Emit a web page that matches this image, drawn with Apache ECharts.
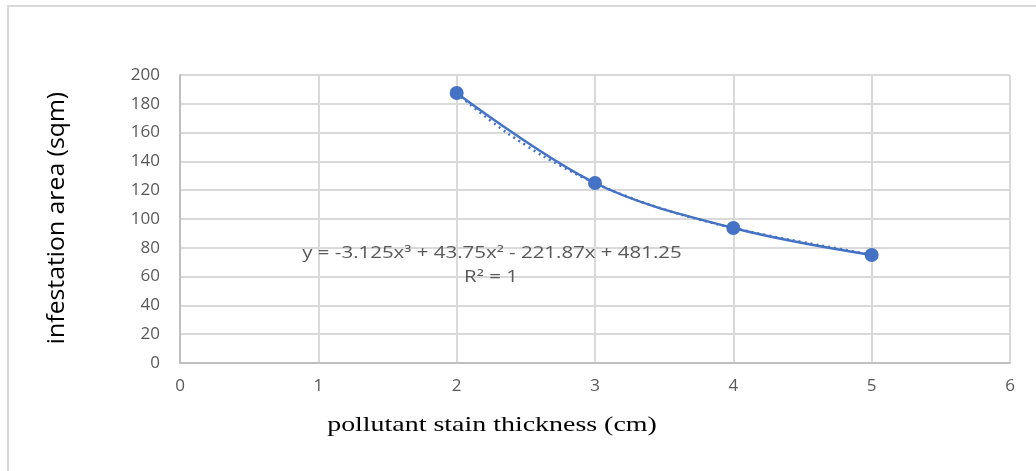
<!DOCTYPE html>
<html><head><meta charset="utf-8">
<script src="https://cdn.jsdelivr.net/npm/echarts@6/dist/echarts.min.js"></script>
<style>html,body{margin:0;padding:0;background:#fff}#c{width:1036px;height:471px}</style>
</head><body><div id="c"></div>
<script>
var thickness = [2, 3, 4, 5];
var area = [187.5, 125, 93.75, 75];
var trendX = [2, 2.25, 2.5, 2.75, 3, 3.25, 3.5, 3.75, 4, 4.25, 4.5, 4.75, 5];
var trendY = [187.5, 167.9, 151.2, 137.0, 125.0, 115.0, 106.7, 99.7, 93.8, 88.6, 84.0, 79.6, 75.0];
var xTicks = [0, 1, 2, 3, 4, 5, 6];
var yTicks = [0, 20, 40, 60, 80, 100, 120, 140, 160, 180, 200];
var eqText = 'y = -3.125x³ + 43.75x² - 221.87x + 481.25';
var r2Text = 'R² = 1';
var xName = 'pollutant stain thickness (cm)';
var yName = 'infestation area (sqm)';

var chart = echarts.init(document.getElementById('c'), null, {renderer: 'canvas'});
var font = 'Open Sans';
chart.setOption({
  animation: false,
  backgroundColor: '#fff',
  grid: {left: 180, right: 26, top: 75, bottom: 108, containLabel: false},
  xAxis: {
    type: 'value', min: xTicks[0], max: xTicks[xTicks.length-1], interval: 1,
    axisLine: {lineStyle: {color: '#bfbfbf', width: 2}},
    axisTick: {show: false},
    axisLabel: {color: '#595959', fontFamily: font, fontSize: 17, margin: 15},
    splitLine: {lineStyle: {color: '#d9d9d9', width: 2}}
  },
  yAxis: {
    type: 'value', min: yTicks[0], max: yTicks[yTicks.length-1], interval: 20,
    axisLine: {show: true, lineStyle: {color: '#bfbfbf', width: 2}},
    axisTick: {show: false},
    axisLabel: {color: '#595959', fontFamily: font, fontSize: 17, margin: 20},
    splitLine: {lineStyle: {color: '#d9d9d9', width: 2}}
  },
  graphic: [
    {type: 'polyline', shape: {points: [[8, 480], [8, 6], [1050, 6]]}, style: {stroke: '#d9d9d9', lineWidth: 2, fill: null}},
    {type: 'text', z: 100, x: 492, y: 254, scaleX: 1.32, style: {text: eqText, x: 0, y: 0, align: 'center', verticalAlign: 'middle', font: '15.5px "Open Sans"', fill: '#595959'}},
    {type: 'text', z: 100, x: 491, y: 278, scaleX: 1.32, style: {text: r2Text, x: 0, y: 0, align: 'center', verticalAlign: 'middle', font: '15.5px "Open Sans"', fill: '#595959'}},
    {type: 'text', z: 100, x: 492, y: 425, scaleX: 1.33, style: {text: xName, x: 0, y: 0, align: 'center', verticalAlign: 'middle', font: '21px "Liberation Serif"', fill: '#000'}},
    {type: 'text', z: 100, x: 57, y: 218, rotation: Math.PI / 2, scaleX: 1.18, scaleY: 1.1, style: {text: yName, x: 0, y: 0, align: 'center', verticalAlign: 'middle', font: '21px "Open Sans"', fill: '#000'}}
  ],
  series: [
    {
      type: 'line', name: 'trend', data: trendX.map(function(x, i){return [x, trendY[i]];}),
      symbol: 'none', smooth: true, lineStyle: {color: '#4472C4', width: 2.5, type: [2, 4]}, z: 2
    },
    {
      type: 'line', name: 'area', data: thickness.map(function(x, i){return [x, area[i]];}),
      smooth: 0.35, symbol: 'circle', symbolSize: 14,
      itemStyle: {color: '#4472C4'}, lineStyle: {color: '#4472C4', width: 2.5}, z: 3
    }
  ]
});
</script></body></html>
